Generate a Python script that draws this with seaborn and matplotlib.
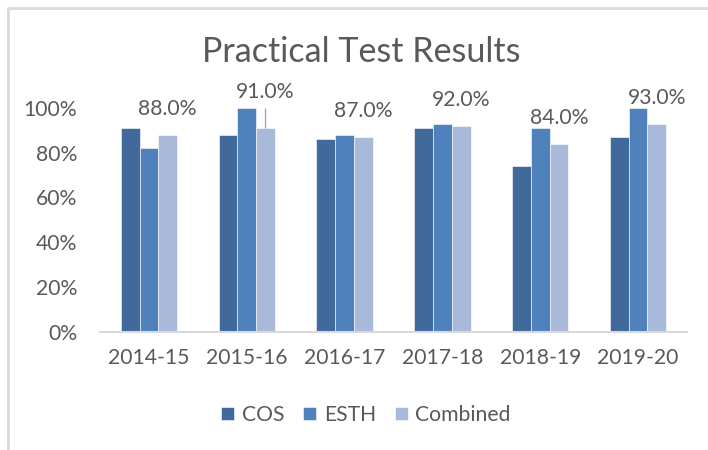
import matplotlib
matplotlib.use("Agg")
import matplotlib.pyplot as plt
import seaborn as sns
import pandas as pd
from matplotlib.lines import Line2D

# ---- data ----
years = ["2014-15", "2015-16", "2016-17", "2017-18", "2018-19", "2019-20"]
cos = [0.91, 0.88, 0.86, 0.91, 0.74, 0.87]
esth = [0.82, 1.00, 0.88, 0.93, 0.91, 1.00]
combined = [0.88, 0.91, 0.87, 0.92, 0.84, 0.93]
series_names = ["COS", "ESTH", "Combined"]
y_ticks = [0, 0.2, 0.4, 0.6, 0.8, 1.0]
y_tick_labels = ["0%", "20%", "40%", "60%", "80%", "100%"]
title = "Practical Test Results"

df = pd.DataFrame({
    "year": years * 3,
    "series": [s for s in series_names for _ in years],
    "value": cos + esth + combined,
})

# ---- style ----
sns.set_theme(style="white")
plt.rcParams["font.family"] = ["Lato", "DejaVu Sans"]
TEXT = "#595959"
GRID = "#D9D9D9"
FS = 15.2
palette = ["#41699B", "#4F81BD", "#A9B9D9"]

W, H = 708, 450
fig = plt.figure(figsize=(W / 100, H / 100), dpi=100)
ax = fig.add_axes([100 / W, (H - 331.7) / H, 587 / W, 223.7 / H])

sns.barplot(data=df, x="year", y="value", hue="series", order=years,
            hue_order=series_names, palette=palette, width=0.576,
            saturation=1, ax=ax, edgecolor="white", linewidth=0.4)

ax.set_ylim(0, 1)
ax.set_xlim(-0.5, 5.5)
ax.set_yticks(y_ticks)
ax.set_yticklabels(y_tick_labels)
ax.set_xlabel("")
ax.set_ylabel("")
for s in ["top", "right", "left"]:
    ax.spines[s].set_visible(False)
ax.spines["bottom"].set_color(GRID)
ax.spines["bottom"].set_linewidth(1.5)
ax.tick_params(axis="both", length=0, labelsize=FS, labelcolor=TEXT)
ax.tick_params(axis="y", pad=16.5)
ax.tick_params(axis="x", pad=12)

# data labels on Combined bars
offsets_px = [26, 36, 26, 26, 26, 26]
for i, bar in enumerate(ax.containers[2]):
    x = bar.get_x() + bar.get_width() / 2
    v = bar.get_height()
    ax.annotate(f"{v * 100:.1f}%", xy=(x, v), xytext=(0, offsets_px[i] * 0.72),
                textcoords="offset points", ha="center", va="center",
                fontsize=FS, color=TEXT, annotation_clip=False)
    if offsets_px[i] > 30:
        ax.annotate("", xy=(x, v), xytext=(0, 19.3 * 0.72),
                    textcoords="offset points",
                    arrowprops=dict(arrowstyle="-", color="#A6A6A6", lw=1,
                                    shrinkA=0, shrinkB=0),
                    annotation_clip=False)

# legend
handles, labels = ax.get_legend_handles_labels()
ax.get_legend().remove()
fig.legend(handles, labels, loc="center", bbox_to_anchor=(366 / W, 1 - 415 / H),
           ncol=3, frameon=False, fontsize=FS, labelcolor=TEXT,
           handlelength=0.62, handleheight=0.62, handletextpad=0.35,
           columnspacing=0.9, borderaxespad=0)

# title
fig.text(361.5 / W, 1 - 52 / H, title, ha="center", va="center",
         fontsize=24.5, color=TEXT)

# chart frame (partially visible)
fig.add_artist(Line2D([7.5 / W, 7.5 / W], [0, 1 - 8 / H], color=GRID, lw=2,
                      transform=fig.transFigure))
fig.add_artist(Line2D([7.5 / W, 1], [1 - 8 / H, 1 - 8 / H], color=GRID, lw=2,
                      transform=fig.transFigure))

fig.savefig("out.png", dpi=100)
